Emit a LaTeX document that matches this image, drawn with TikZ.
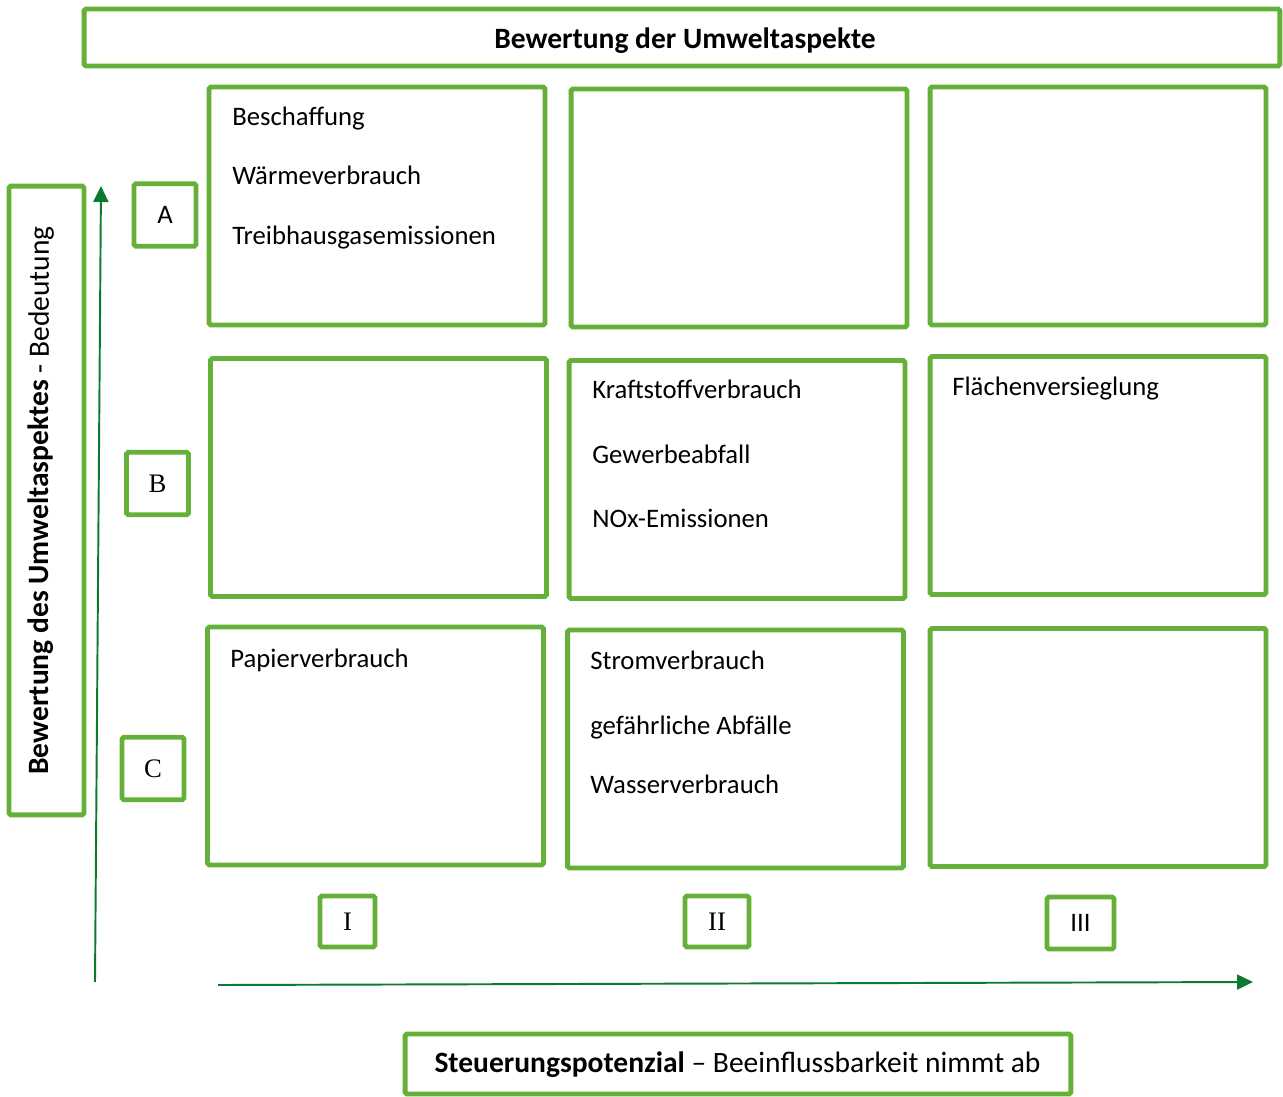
\documentclass[tikz,border=0pt]{standalone}
\usepackage{fontspec}
\setmainfont{Carlito}
\newfontfamily\romanlabel{Liberation Serif}
\usetikzlibrary{arrows.meta}
\definecolor{boxgreen}{RGB}{101,176,57}
\definecolor{arrowgreen}{RGB}{12,122,45}

\begin{document}
\begin{tikzpicture}[x=0.02cm,y=-0.02cm,font=\fontsize{15.2}{18}\selectfont,
    greenbox/.style={draw=boxgreen,line width=2.8pt,rounded corners=1pt,inner sep=0pt},
    cell/.style={greenbox,minimum width=6.72cm,minimum height=4.76cm},
    gradebox/.style={greenbox,minimum width=1.24cm,minimum height=1.25cm},
    colbox/.style={greenbox,minimum height=1.02cm},
    heading/.style={inner sep=0pt,font=\fontsize{16.8}{20}\selectfont},
    aspect/.style={anchor=base west,inner sep=0pt},
    scalearrow/.style={draw=arrowgreen,line width=1.1pt,-{Triangle[length=0.32cm,width=0.3cm]}}]
\useasboundingbox (0,0) rectangle (1283,1097);
% headings
\node[greenbox,minimum width=23.92cm,minimum height=1.14cm] (title) at (682,37.5) {};
\node[heading,anchor=base] (titletext) at (685,49) {\textbf{Bewertung der Umweltaspekte}};
\node[greenbox,minimum width=1.5cm,minimum height=12.58cm] (ybox) at (46.5,500.5) {};
\node[heading,rotate=90] (ylabel) at (41,500.5) {\textbf{Bewertung des Umweltaspektes} - Bedeutung};
\node[greenbox,minimum width=13.32cm,minimum height=1.2cm] (xbox) at (738,1064) {};
\node[heading,anchor=base] (xlabel) at (737.5,1072) {\textbf{Steuerungspotenzial} -- Beeinflussbarkeit nimmt ab};
% grades
\node[gradebox] (gradeA) at (165,215) {\raisebox{-1.5pt}{A}};
\node[gradebox] (gradeB) at (157.5,483.5) {\romanlabel B};
\node[gradebox] (gradeC) at (153,768.5) {\romanlabel C};
\node[colbox,minimum width=1.1cm] (colI) at (347.5,921.5) {\raisebox{-2pt}{\romanlabel I}};
\node[colbox,minimum width=1.28cm] (colII) at (717,921.5) {\raisebox{-2pt}{\romanlabel II}};
\node[colbox,minimum width=1.34cm,minimum height=1.04cm] (colIII) at (1080.5,923) {\raisebox{-2.5pt}{III}};
% matrix
\node[cell] (c11) at (377,206) {};
\node[cell] (c12) at (739,208) {};
\node[cell] (c13) at (1098,206) {};
\node[cell] (c21) at (378.5,477.5) {};
\node[cell] (c22) at (737,479.5) {};
\node[cell] (c23) at (1098,475.5) {};
\node[cell] (c31) at (375.5,746) {};
\node[cell] (c32) at (735.5,749) {};
\node[cell] (c33) at (1098,747.5) {};
\node[aspect] (beschaffung) at (232,126) {Beschaffung};
\node[aspect] (waerme) at (232,185) {Wärmeverbrauch};
\node[aspect] (thg) at (232,245) {Treibhausgasemissionen};
\node[aspect] (kraftstoff) at (592,399) {Kraftstoffverbrauch};
\node[aspect] (gewerbe) at (592,463) {Gewerbeabfall};
\node[aspect] (nox) at (592,527) {NOx-Emissionen};
\node[aspect] (flaeche) at (952,396) {Flächenversieglung};
\node[aspect] (papier) at (230,667) {Papierverbrauch};
\node[aspect] (strom) at (590,669) {Stromverbrauch};
\node[aspect] (gefahr) at (590,734) {gefährliche Abfälle};
\node[aspect] (wasser) at (590,793) {Wasserverbrauch};
% axes
\coordinate (yfoot) at (95,982);
\coordinate (ytip) at (101,186);
\coordinate (xfoot) at (218,985);
\coordinate (xtip) at (1253,982);
\draw[scalearrow] (yfoot) -- (ytip);
\draw[scalearrow] (xfoot) -- (xtip);
\end{tikzpicture}
\end{document}
